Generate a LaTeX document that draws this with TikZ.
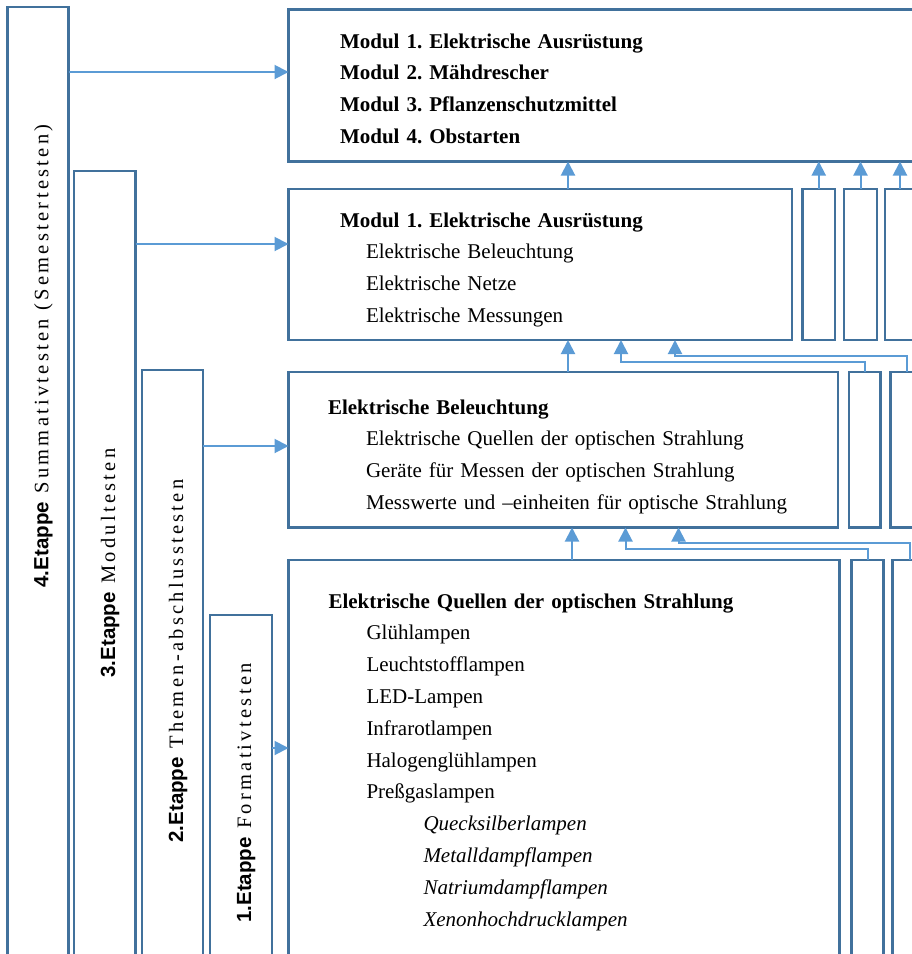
\documentclass[tikz,border=0pt]{standalone}
\usepackage{fontspec}
\setmainfont{Liberation Serif}
\newfontfamily\etappefont{Liberation Sans}
\newfontfamily\spacedfont[LetterSpace=16]{Liberation Serif}
\usepackage{tikz}
\usetikzlibrary{arrows.meta,positioning}
\definecolor{boxblue}{HTML}{41719C}
\definecolor{arrowblue}{HTML}{5B9BD5}
\frenchspacing
\tikzstyle{every node}=[inner sep=0pt, outer sep=0pt]
\tikzset{
    frame/.style={
                draw=boxblue,
                line width=2.6pt,
                anchor=north west
            },
        stage/.style={
                rotate=90,
                anchor=base,
                font=\spacedfont\fontsize{20.5}{24}\selectfont
            },
        txt/.style={
                anchor=base west,
                align=left,
                text width=560pt,
                font=\fontsize{21}{31.8}\selectfont
            },
        arr/.style={
                draw=arrowblue,
                line width=2pt,
                -{Triangle[width=14pt,length=14pt]}
            },
}
\newcommand{\etappe}[1]{{\etappefont\bfseries #1}}

\begin{document}
\begin{tikzpicture}[x=1pt, y=-1pt]
  \useasboundingbox (0,0) rectangle (912,954);
  \clip (0,0) rectangle (912,954);
  % Etappen
  \node[frame, minimum width=61pt, minimum height=1000pt] (e4) at (7.5,7) {};
  \node[frame, minimum width=61.5pt, minimum height=800pt] (e3) at (74,171) {};
  \node[frame, minimum width=61pt, minimum height=600pt] (e2) at (142,370) {};
  \node[frame, minimum width=62pt, minimum height=400pt] (e1) at (210,615) {};
  \node[stage] (t4) at (48.5,356) {\etappe{4.Etappe} Summativtesten (Semestertesten)};
  \node[stage] (t3) at (115,563) {\etappe{3.Etappe} Modultesten};
  \node[stage] (t2) at (183,661) {\etappe{2.Etappe} Themen-abschlusstesten};
  \node[stage] (t1) at (251,793) {\etappe{1.Etappe} Formativtesten};
  % Module und Themen
  \node[frame, minimum width=700pt, minimum height=152pt] (m0) at (288.5,9.5) {};
  \node[frame, minimum width=503.5pt, minimum height=151pt] (m1) at (288.5,189) {};
  \node[frame, minimum width=549.5pt, minimum height=155.5pt] (m2) at (288.5,372) {};
  \node[frame, minimum width=551pt, minimum height=430pt] (m3) at (288.5,560) {};
  % schmale Kaesten
  \node[frame, minimum width=32.5pt, minimum height=151pt] (s1a) at (802.5,189) {};
  \node[frame, minimum width=33pt, minimum height=151pt, right=9pt of s1a] (s1b) {};
  \node[frame, minimum width=40pt, minimum height=151pt, right=8pt of s1b] (s1c) {};
  \node[frame, minimum width=31.5pt, minimum height=155.5pt] (s2a) at (849,372) {};
  \node[frame, minimum width=40pt, minimum height=155.5pt, right=10pt of s2a] (s2b) {};
  \node[frame, minimum width=32pt, minimum height=430pt] (s3a) at (851.5,560) {};
  \node[frame, minimum width=40pt, minimum height=430pt, right=9pt of s3a] (s3b) {};
  % Texte
  \node[txt] (l0) at (340,48) {\bfseries Modul 1. Elektrische Ausrüstung\\
    Modul 2. Mähdrescher\\
    Modul 3. Pflanzenschutzmittel\\
    Modul 4. Obstarten};
  \node[txt] (l1) at (340,227) {\textbf{Modul 1. Elektrische Ausrüstung}\\
    \hspace*{26pt}Elektrische Beleuchtung\\
    \hspace*{26pt}Elektrische Netze\\
    \hspace*{26pt}Elektrische Messungen};
  \node[txt] (l2) at (328,414) {\textbf{Elektrische Beleuchtung}\\
    \hspace*{38pt}Elektrische Quellen der optischen Strahlung\\
    \hspace*{38pt}Geräte für Messen der optischen Strahlung\\
    \hspace*{38pt}Messwerte und –einheiten für optische Strahlung};
  \node[txt] (l3) at (328.5,608) {\textbf{Elektrische Quellen der optischen Strahlung}\\
    \hspace*{38pt}Glühlampen\\
    \hspace*{38pt}Leuchtstofflampen\\
    \hspace*{38pt}LED-Lampen\\
    \hspace*{38pt}Infrarotlampen\\
    \hspace*{38pt}Halogenglühlampen\\
    \hspace*{38pt}Preßgaslampen\\
    \hspace*{95pt}\textit{Quecksilberlampen}\\
    \hspace*{95pt}\textit{Metalldampflampen}\\
    \hspace*{95pt}\textit{Natriumdampflampen}\\
    \hspace*{95pt}\textit{Xenonhochdrucklampen}};
  % Pfeile von den Etappen
  \coordinate (h4) at (0,72);
  \coordinate (h3) at (0,244);
  \coordinate (h2) at (0,446);
  \coordinate (h1) at (0,748);
  \draw[arr] (e4.east |- h4) -- (m0.west |- h4);
  \draw[arr] (e3.east |- h3) -- (m1.west |- h3);
  \draw[arr] (e2.east |- h2) -- (m2.west |- h2);
  \draw[arr] (e1.east |- h1) -- (m3.west |- h1);
  % Pfeile nach oben
  \coordinate (v1) at (568,0);
  \coordinate (v2) at (568,0);
  \coordinate (v3) at (572,0);
  \coordinate (v4) at (900,0);
  \coordinate (v5) at (907,0);
  \coordinate (v6) at (910,0);
  \draw[arr] (v1 |- m1.north) -- (v1 |- m0.south);
  \draw[arr] (v2 |- m2.north) -- (v2 |- m1.south);
  \draw[arr] (v3 |- m3.north) -- (v3 |- m2.south);
  \draw[arr] (s1a.north) -- (s1a.north |- m0.south);
  \draw[arr] (s1b.north) -- (s1b.north |- m0.south);
  \draw[arr] (v4 |- s1c.north) -- (v4 |- m0.south);
  % Umwege
  \coordinate (k1) at (621,362);
  \coordinate (k2) at (675,355.5);
  \coordinate (k3) at (625.5,549);
  \coordinate (k4) at (678.5,543);
  \draw[arr] (s2a.north) |- (k1) -- (k1 |- m1.south);
  \draw[arr] (v5 |- s2b.north) |- (k2) -- (k2 |- m1.south);
  \draw[arr] (s3a.north) |- (k3) -- (k3 |- m2.south);
  \draw[arr] (v6 |- s3b.north) |- (k4) -- (k4 |- m2.south);
\end{tikzpicture}
\end{document}
